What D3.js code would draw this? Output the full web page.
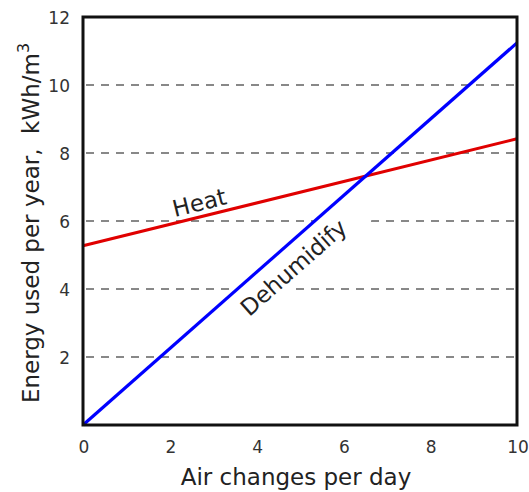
<!DOCTYPE html>
<html><head><meta charset="utf-8">
<script src="https://cdn.jsdelivr.net/npm/d3@7"></script>
<style>body{margin:0;background:#fff}</style>
</head><body>
<svg id="c" width="529" height="492"></svg>
<script>
const xTicks = [0, 2, 4, 6, 8, 10];
const yTicks = [2, 4, 6, 8, 10, 12];
const gridValues = [2, 4, 6, 8, 10];
const heatX = [0, 10];
const heatY = [5.27, 8.42];
const dehumX = [0, 10];
const dehumY = [0, 11.24];

const svg = d3.select("#c");
const m = {l: 83, r: 517, t: 17, b: 425};
const x = d3.scaleLinear().domain([0, 10]).range([m.l, m.r]);
const y = d3.scaleLinear().domain([0, 12]).range([m.b, m.t]);
const font = "DejaVu Sans, sans-serif";

// grid
svg.selectAll(".g").data(gridValues).enter().append("line")
  .attr("x1", x(0) + 3).attr("x2", x(10)).attr("y1", d => y(d)).attr("y2", d => y(d))
  .attr("stroke", "#888").attr("stroke-width", 2).attr("stroke-dasharray", "8,7");

function angle(xs, ys) {
  return Math.atan2(y(ys[1]) - y(ys[0]), x(xs[1]) - x(xs[0])) * 180 / Math.PI;
}
function at(xs, ys, xv) {
  const t = (xv - xs[0]) / (xs[1] - xs[0]);
  return [x(xv), y(ys[0] + t * (ys[1] - ys[0]))];
}

// Dehumidify label group (white band behind text)
const dp = at(dehumX, dehumY, 4.53);
const dg = svg.append("g").attr("transform", `translate(${dp[0]},${dp[1]}) rotate(${angle(dehumX, dehumY)})`);
dg.append("rect").attr("x", -80).attr("y", 0).attr("width", 172).attr("height", 37).attr("fill", "#fff");

const line = d3.line().x(d => x(d[0])).y(d => y(d[1]));
svg.append("path").datum(heatX.map((v, i) => [v, heatY[i]])).attr("d", line)
  .attr("fill", "none").attr("stroke", "#e00000").attr("stroke-width", 3);
svg.append("path").datum(dehumX.map((v, i) => [v, dehumY[i]])).attr("d", line)
  .attr("fill", "none").attr("stroke", "#0000ff").attr("stroke-width", 3.2);

dg.append("text").attr("x", 0).attr("y", 29).attr("text-anchor", "middle")
  .attr("font-family", font).attr("font-size", 23).attr("fill", "#222").text("Dehumidify");

const hp = at(heatX, heatY, 2.76);
svg.append("text").attr("transform", `translate(${hp[0]},${hp[1]}) rotate(${angle(heatX, heatY)})`)
  .attr("x", 0).attr("y", -6).attr("text-anchor", "middle")
  .attr("font-family", font).attr("font-size", 23).attr("fill", "#222").text("Heat");

// frame
svg.append("rect").attr("x", m.l).attr("y", m.t).attr("width", m.r - m.l).attr("height", m.b - m.t)
  .attr("fill", "none").attr("stroke", "#111").attr("stroke-width", 3);

// tick labels
svg.selectAll(".xl").data(xTicks).enter().append("text")
  .attr("x", d => x(d) + 1).attr("y", 453).attr("text-anchor", "middle")
  .attr("font-family", font).attr("font-size", 17).attr("fill", "#333").text(d => d);
svg.selectAll(".yl").data(yTicks).enter().append("text")
  .attr("x", 70).attr("y", d => y(d) + 7).attr("text-anchor", "end")
  .attr("font-family", font).attr("font-size", 17).attr("fill", "#333").text(d => d);

svg.append("text").attr("x", 296).attr("y", 485).attr("text-anchor", "middle")
  .attr("font-family", font).attr("font-size", 23).attr("fill", "#222").text("Air changes per day");

const yl = svg.append("text").attr("transform", `translate(39,223) rotate(-90)`)
  .attr("text-anchor", "middle").attr("font-family", font).attr("font-size", 23).attr("fill", "#222")
  .attr("xml:space", "preserve").style("white-space", "pre");
yl.append("tspan").text("Energy used per year,  kWh/m");
yl.append("tspan").attr("dy", -10).attr("font-size", 16).text("3");
</script>
</body></html>
